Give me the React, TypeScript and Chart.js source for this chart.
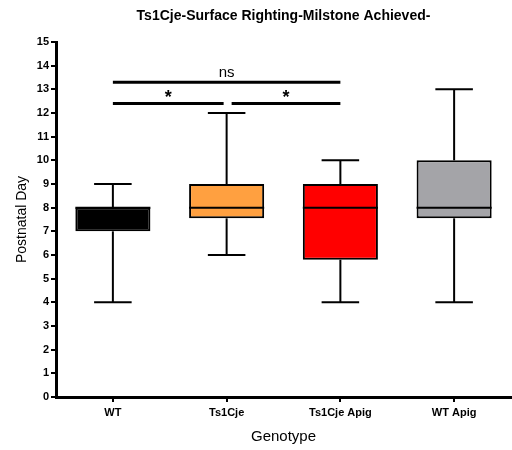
import React, { useEffect, useRef } from 'react';
import { Chart, registerables } from 'chart.js';

Chart.register(...registerables);

const chartTitle = 'Ts1Cje-Surface Righting-Milstone Achieved-';
const categories = ['WT', 'Ts1Cje', 'Ts1Cje Apig', 'WT Apig'];
const mins = [4, 6, 4, 4];
const q1s = [7, 7.55, 5.8, 7.55];
const medians = [8, 8, 8, 8];
const q3s = [8, 9, 9, 10];
const maxs = [9, 12, 10, 13];
const boxColors = ['#000000', '#FFA040', '#FF0000', '#A4A4A8'];

const compFrom = [0, 0, 1];
const compTo = [2, 1, 2];
const compLevel = [13.3, 12.4, 12.4];
const compLabel = ['ns', '*', '*'];

const yTicks = [0, 15];

const FONT = '"Liberation Sans", Arial, sans-serif';

const boxPlugin = {
  id: 'boxWhiskers',
  afterDatasetsDraw(chart: any) {
    const meta = chart.getDatasetMeta(0);
    const ys = chart.scales.y;
    const ctx = chart.ctx;
    ctx.save();
    ctx.strokeStyle = '#000';
    ctx.lineWidth = 2;
    const line = (x1: number, y1: number, x2: number, y2: number) => {
      ctx.beginPath();
      ctx.moveTo(x1, y1);
      ctx.lineTo(x2, y2);
      ctx.stroke();
    };
    meta.data.forEach((bar: any, i: number) => {
      const x = bar.x;
      const w = bar.width;
      const cap = w / 4;
      const yMin = ys.getPixelForValue(mins[i]);
      const yMax = ys.getPixelForValue(maxs[i]);
      const yQ1 = ys.getPixelForValue(q1s[i]);
      const yQ3 = ys.getPixelForValue(q3s[i]);
      const yMed = ys.getPixelForValue(medians[i]);
      line(x, yQ3, x, yMax);
      line(x - cap, yMax, x + cap, yMax);
      line(x, yQ1, x, yMin);
      line(x - cap, yMin, x + cap, yMin);
      line(x - w / 2, yMed, x + w / 2, yMed);
    });
    ctx.restore();
  },
};

const sigPlugin = {
  id: 'significance',
  afterDatasetsDraw(chart: any) {
    const xs = chart.scales.x;
    const ys = chart.scales.y;
    const ctx = chart.ctx;
    ctx.save();
    ctx.strokeStyle = '#000';
    ctx.fillStyle = '#000';
    ctx.lineWidth = 3;
    ctx.textAlign = 'center';
    compFrom.forEach((f, i) => {
      let x1 = xs.getPixelForValue(f);
      let x2 = xs.getPixelForValue(compTo[i]);
      // split adjacent bars sharing the same level around the shared category
      if (i === 1) x2 -= 3;
      if (i === 2) x1 += 5;
      const y = ys.getPixelForValue(compLevel[i]);
      ctx.beginPath();
      ctx.moveTo(x1, y);
      ctx.lineTo(x2, y);
      ctx.stroke();
      if (compLabel[i] === '*') {
        ctx.font = `bold 18px ${FONT}`;
        ctx.textBaseline = 'top';
        ctx.fillText(compLabel[i], (x1 + x2) / 2, y - 15);
      } else {
        ctx.font = `15px ${FONT}`;
        ctx.textBaseline = 'bottom';
        ctx.fillText(compLabel[i], (x1 + x2) / 2, y - 2);
      }
    });
    ctx.restore();
  },
};

const titlePlugin = {
  id: 'centerTitle',
  afterDraw(chart: any) {
    const ctx = chart.ctx;
    const a = chart.chartArea;
    ctx.save();
    ctx.fillStyle = '#000';
    ctx.font = `bold 14px ${FONT}`;
    ctx.textAlign = 'center';
    ctx.textBaseline = 'middle';
    ctx.fillText(chartTitle, (a.left + a.right) / 2, 16);
    ctx.restore();
  },
};

export default function App() {
  const ref = useRef<HTMLCanvasElement | null>(null);
  useEffect(() => {
    document.body.style.margin = '0';
    const canvas = ref.current;
    if (!canvas) return;
    const chart = new Chart(canvas, {
      type: 'bar',
      data: {
        labels: categories,
        datasets: [
          {
            data: categories.map((_, i) => [q1s[i], q3s[i]]) as any,
            backgroundColor: boxColors,
            borderColor: '#000',
            borderWidth: 2,
            borderSkipped: false,
            barPercentage: 0.66,
            categoryPercentage: 1,
          },
        ],
      },
      options: {
        responsive: false,
        animation: false,
        layout: { padding: { top: 42, right: 1, left: 0, bottom: 0 } },
        plugins: {
          legend: { display: false },
          tooltip: { enabled: false },
          title: { display: false },
        },
        scales: {
          x: {
            type: 'category',
            offset: true,
            grid: {
              display: true,
              offset: false,
              drawOnChartArea: false,
              drawTicks: true,
              tickLength: 5,
              color: '#000',
              lineWidth: 2,
            },
            border: { display: true, color: '#000', width: 3 },
            ticks: { color: '#000', font: { family: FONT, size: 11, weight: 'bold' }, padding: 4 },
            title: {
              display: true,
              text: 'Genotype',
              color: '#000',
              font: { family: FONT, size: 15 },
              padding: { top: 0, bottom: 4 },
            },
            afterFit: (s: any) => {
              s.height = 53;
            },
          },
          y: {
            min: yTicks[0],
            max: yTicks[1],
            ticks: { stepSize: 1, color: '#000', font: { family: FONT, size: 11, weight: 'bold' }, padding: 2 },
            grid: {
              display: true,
              drawOnChartArea: false,
              drawTicks: true,
              tickLength: 5,
              color: '#000',
              lineWidth: 2,
            },
            border: { display: true, color: '#000', width: 3 },
            title: {
              display: true,
              text: 'Postnatal Day',
              color: '#000',
              font: { family: FONT, size: 14 },
              padding: { top: 14, bottom: 0 },
            },
            afterFit: (s: any) => {
              s.width = 56;
            },
          },
        },
      } as any,
      plugins: [boxPlugin, sigPlugin, titlePlugin],
    });
    return () => chart.destroy();
  }, []);
  return (
    <div style={{ width: 512, height: 450 }}>
      <canvas ref={ref} width={512} height={450} />
    </div>
  );
}
